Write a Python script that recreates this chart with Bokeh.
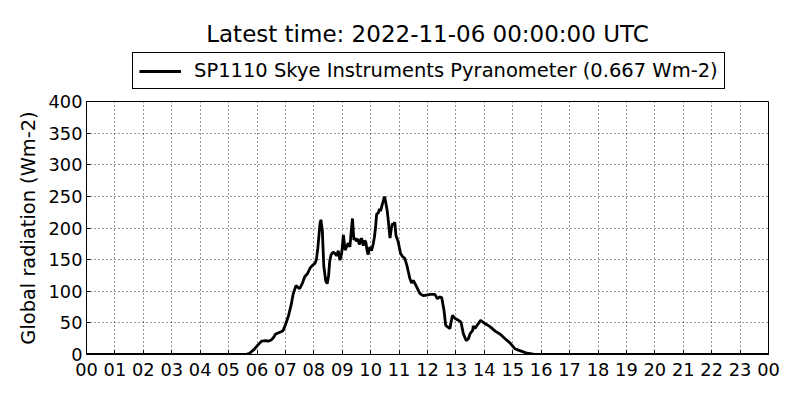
from bokeh.plotting import figure
from bokeh.models import FixedTicker, Legend, LegendItem, Range1d
from bokeh.layouts import column
from bokeh.embed import file_html
from bokeh.resources import INLINE

title_text = "Latest time: 2022-11-06 00:00:00 UTC"
series_label = "SP1110 Skye Instruments Pyranometer (0.667 Wm-2)"
y_label = "Global radiation (Wm-2)"

hour_ticks = list(range(25))
hour_labels = [f"{h % 24:02d}" for h in hour_ticks]
y_ticks = [0, 50, 100, 150, 200, 250, 300, 350, 400]

hours = [
    0.0, 5.5, 5.65, 5.74, 5.9, 6.05, 6.16, 6.3, 6.39, 6.5,
    6.57, 6.65, 6.74, 6.85, 6.92, 7.0, 7.1, 7.2, 7.27, 7.37,
    7.44, 7.5, 7.6, 7.68, 7.78, 7.86, 7.95, 8.04, 8.09, 8.14,
    8.18, 8.22, 8.25, 8.3, 8.35, 8.42, 8.47, 8.52, 8.56, 8.61,
    8.68, 8.74, 8.8, 8.86, 8.92, 8.98, 9.04, 9.1, 9.15, 9.21,
    9.27, 9.32, 9.36, 9.41, 9.46, 9.5, 9.55, 9.6, 9.64, 9.68,
    9.74, 9.79, 9.83, 9.87, 9.91, 9.97, 10.03, 10.09, 10.13, 10.17,
    10.21, 10.27, 10.31, 10.35, 10.4, 10.44, 10.48, 10.5, 10.54, 10.58,
    10.62, 10.68, 10.73, 10.77, 10.8, 10.85, 10.89, 10.94, 10.97, 11.05,
    11.12, 11.2, 11.28, 11.38, 11.44, 11.5, 11.56, 11.62, 11.68, 11.74,
    11.85, 11.97, 12.09, 12.2, 12.26, 12.35, 12.42, 12.5, 12.58, 12.64,
    12.73, 12.79, 12.82, 12.88, 12.97, 13.09, 13.18, 13.26, 13.36, 13.44,
    13.5, 13.59, 13.61, 13.67, 13.79, 13.87, 14.02, 14.2, 14.38, 14.56,
    14.73, 14.91, 15.08, 15.2, 15.32, 15.5, 15.73, 16.0, 24.0,
]
radiation = [
    0, 0, 0.5, 2, 8, 16, 21, 22, 21, 23,
    26, 32, 34, 36, 38, 47, 60, 78, 95, 109,
    106, 104, 113, 123, 128, 136, 141, 144, 150, 168,
    188, 208, 213, 195, 140, 116, 112, 125, 148, 158,
    162, 160, 156, 164, 149, 160, 189, 165, 170, 176,
    170, 197, 215, 181, 184, 179, 183, 174, 179, 184,
    172, 180, 178, 165, 158, 170, 164, 175, 185, 200,
    222, 224, 230, 227, 236, 242, 249, 248, 238, 228,
    212, 184, 200, 207, 206, 209, 188, 182, 178, 160,
    155, 152, 140, 120, 113, 117, 112, 107, 101, 96,
    93, 94, 95, 95, 95, 88, 91, 90, 70, 46,
    43, 41, 49, 62, 57, 54, 51, 33, 22, 25,
    33, 38, 45, 41, 49, 54, 49, 44, 37, 32,
    25, 18, 9, 7, 5, 2, 0.5, 0, 0,
]

FONT = "DejaVu Sans"
LINE_W = 2.8

# ---- header figure: title + legend (its view range lies outside the data,
# so the series drawn here only serves as the legend key) ----
top = figure(width=784, height=90, output_backend="svg", toolbar_location=None,
             x_range=Range1d(-2, -1), y_range=Range1d(-2, -1),
             x_axis_type=None, y_axis_type=None,
             min_border_left=86, min_border_right=16, min_border_bottom=0,
             min_border_top=48, title=title_text)
top.outline_line_color = None
top.grid.visible = False
top.title.align = "center"
top.title.text_font = FONT
top.title.text_font_size = "23px"
top.title.text_font_style = "normal"
top.title.text_color = "black"
top.title.standoff = 4

key = top.line(hours, radiation, line_color="black", line_width=LINE_W)
legend = Legend(items=[LegendItem(label=series_label, renderers=[key])],
                location=(46, 1), orientation="horizontal")
legend.label_text_font = FONT
legend.label_text_font_size = "19.5px"
legend.label_text_color = "black"
legend.glyph_width = 42
legend.label_standoff = 13
legend.padding = 6
legend.margin = 0
legend.border_line_color = "black"
legend.border_line_alpha = 1
legend.border_line_width = 1
legend.background_fill_alpha = 1
top.add_layout(legend, "center")

# ---- main figure ----
p = figure(width=784, height=294, output_backend="svg", toolbar_location=None,
           x_range=Range1d(0, 24), y_range=Range1d(0, 400),
           min_border_left=86, min_border_right=16, min_border_bottom=30,
           min_border_top=11)

p.outline_line_color = "black"
p.outline_line_width = 1
p.background_fill_color = "white"
p.border_fill_color = "white"

xt = FixedTicker(ticks=hour_ticks)
yt = FixedTicker(ticks=y_ticks)

p.xaxis.ticker = xt
p.xaxis.major_label_overrides = {h: lab for h, lab in zip(hour_ticks, hour_labels)}
p.yaxis.ticker = yt

for ax in (p.xaxis[0], p.yaxis[0]):
    ax.major_tick_in = 4
    ax.major_tick_out = 0
    ax.minor_tick_in = 0
    ax.minor_tick_out = 0
    ax.major_label_text_font = FONT
    ax.major_label_text_font_size = "17.8px"
    ax.major_label_text_color = "black"
    ax.axis_line_color = "black"
    ax.major_tick_line_color = "black"

p.xaxis.major_label_standoff = 8
p.yaxis.major_label_standoff = 4
p.yaxis.axis_label = y_label
p.yaxis.axis_label_text_font = FONT
p.yaxis.axis_label_text_font_size = "19.4px"
p.yaxis.axis_label_text_font_style = "normal"
p.yaxis.axis_label_text_color = "black"
p.yaxis.axis_label_standoff = 6

for g, t in ((p.xgrid[0], xt), (p.ygrid[0], yt)):
    g.ticker = t
    g.grid_line_color = "black"
    g.grid_line_dash = "1 3"
    g.grid_line_width = 1
    g.grid_line_alpha = 0.8

p.line(hours, radiation, line_color="black", line_width=LINE_W)

layout = column(top, p, spacing=0)
open("out.html", "w").write(file_html(layout, INLINE))
